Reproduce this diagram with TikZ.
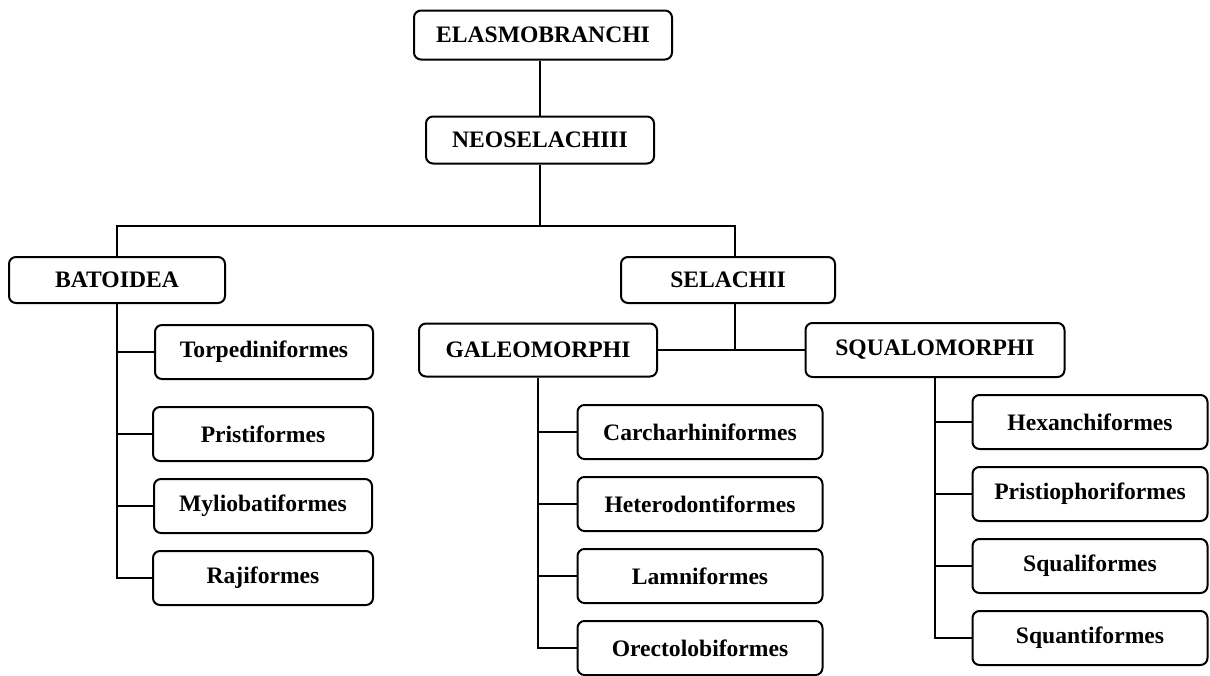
\documentclass[tikz,border=0pt]{standalone}
\usepackage{fontspec}
\setmainfont{Liberation Serif}
\usepackage{tikz}

\begin{document}
\begin{tikzpicture}[x=0.5pt, y=-0.5pt, line width=1pt,
			node distance=36pt,
			taxon/.style={draw, rounded corners=3.5pt, inner sep=0pt,
				font=\fontsize{11.8pt}{13pt}\selectfont\bfseries},
			order/.style={taxon, minimum height=27pt}]
		\useasboundingbox (0, 0) rectangle (1210, 675);

		% upper levels
		\node[taxon, minimum width=129pt, minimum height=24.5pt] (elasmo) at (543, 35) {ELASMOBRANCHI};
		\node[taxon, minimum width=114pt, minimum height=23.5pt] (neo) at (540, 140) {NEOSELACHIII};
		\node[taxon, minimum width=108pt, minimum height=23pt] (bato) at (117, 280) {BATOIDEA};
		\node[taxon, minimum width=107pt, minimum height=23pt] (sela) at (728, 280) {SELACHII};
		\node[taxon, minimum width=119pt, minimum height=26.5pt] (galeo) at (538, 350) {GALEOMORPHI};
		\node[taxon, minimum width=129.5pt, minimum height=27pt] (squalo) at (935, 350) {SQUALOMORPHI};
		\coordinate (fork) at (540, 226);
		\coordinate (join) at (735, 350);

		% orders
		\node[order, minimum width=109pt] (torpedo) at (264, 352) {Torpediniformes};
		\node[order, minimum width=110pt] (pristi) at (263, 434) {Pristiformes};
		\node[order, minimum width=109pt, below of=pristi] (mylio) {Myliobatiformes};
		\node[order, minimum width=110pt, below of=mylio] (raji) {Rajiformes};

		\node[order, minimum width=122.5pt] (carcha) at (700, 432) {Carcharhiniformes};
		\node[order, minimum width=122.5pt, below of=carcha] (hetero) {Heterodontiformes};
		\node[order, minimum width=122.5pt, below of=hetero] (lamni) {Lamniformes};
		\node[order, minimum width=122.5pt, below of=lamni] (orecto) {Orectolobiformes};

		\node[order, minimum width=117.5pt] (hexan) at (1090, 422) {Hexanchiformes};
		\node[order, minimum width=117.5pt, below of=hexan] (pristio) {Pristiophoriformes};
		\node[order, minimum width=117.5pt, below of=pristio] (squali) {Squaliformes};
		\node[order, minimum width=117.5pt, below of=squali] (squant) {Squantiformes};

		\draw (neo.north) -- (neo.north |- elasmo.south);
		\draw (neo.south) -- (fork);
		\draw (bato.north) |- (fork) -| (join |- sela.north);
		\draw (join |- sela.south) -- (join);
		\draw (galeo.east) -- (squalo.west);

		\draw (bato.south) |- (torpedo.west);
		\draw (bato.south) |- (pristi.west);
		\draw (bato.south) |- (mylio.west);
		\draw (bato.south) |- (raji.west);

		\draw (galeo.south) |- (carcha.west);
		\draw (galeo.south) |- (hetero.west);
		\draw (galeo.south) |- (lamni.west);
		\draw (galeo.south) |- (orecto.west);

		\draw (squalo.south) |- (hexan.west);
		\draw (squalo.south) |- (pristio.west);
		\draw (squalo.south) |- (squali.west);
		\draw (squalo.south) |- (squant.west);
	\end{tikzpicture}
\end{document}
